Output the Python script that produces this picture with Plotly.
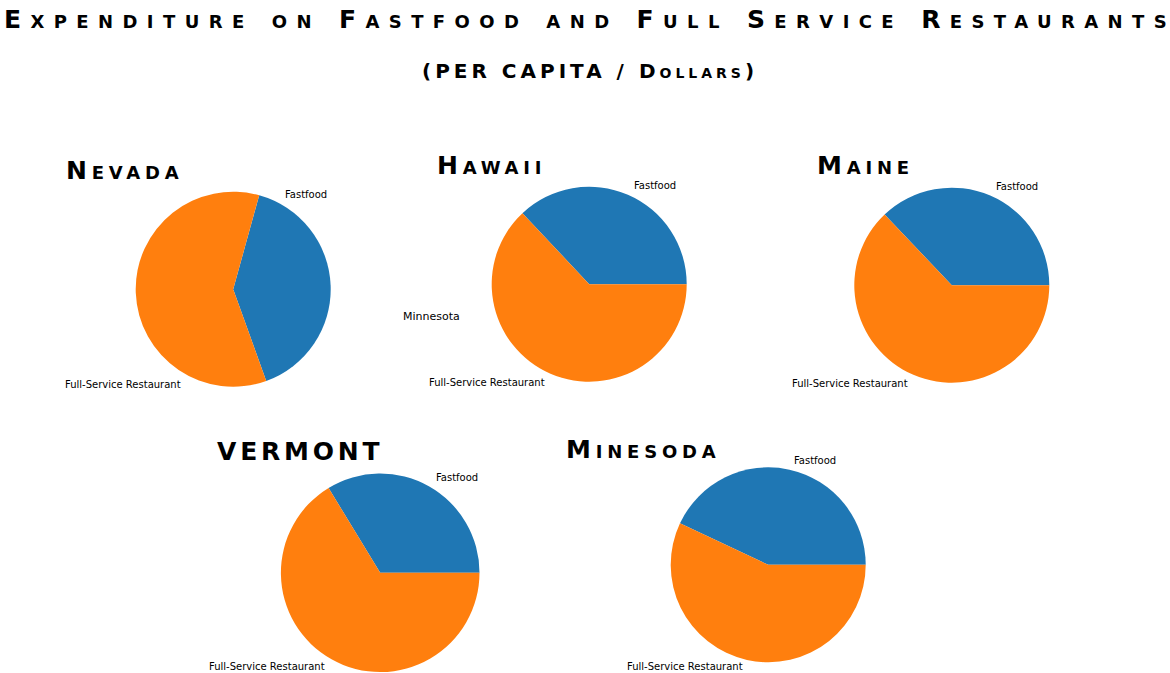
import math
import plotly.graph_objects as go

# ---------------- data ----------------
states = ["Nevada", "Hawaii", "Maine", "VERMONT", "Minesoda"]
categories = ["Fastfood", "Full-Service Restaurant"]
fastfood = [40.2, 37.0, 37.1, 33.7, 43.0]
full_service = [59.8, 63.0, 62.9, 66.3, 57.0]
# first-wedge start angle, degrees counter-clockwise from 3 o'clock
start_angles = [-70.2, 0, 0, 0, 0]
label_start_angles = [-10, 0, 0, 0, 0]
title_main = "Expenditure on Fastfood and Full Service Restaurants"
subtitle = "(PER CAPITA / Dollars)"
stray_label = "Minnesota"

# ---------------- layout (pixels) ----------------
W, H = 1170, 673
centers = [(233.2, 289.2), (589.2, 284.2), (951.8, 285.2), (380.2, 572.8), (768.2, 564.8)]
radii = [97.5, 97.5, 97.5, 99.3, 97.5]
title_pos = [(122.5, 170.7), (489, 165.5), (863, 165.5), (298.3, 451.7), (640.8, 449.7)]
title_spacing = [4.8, 4.8, 4.8, 3.8, 4.8]
BLUE, ORANGE = "#1f77b4", "#ff7f0e"
TITLE_FONT = "DejaVu Sans"


def px(x):
    return x / W


def py(y):
    return 1 - y / H


def spaced(text, sp):
    # letter-spacing on all but the last glyph, so no trailing gap is added
    return '<span style="letter-spacing:%spx">%s</span>%s' % (sp, text[:-1], text[-1])


fig = go.Figure()
annotations = []

for i, st in enumerate(states):
    cx, cy = centers[i]
    r = radii[i]
    vals = [fastfood[i], full_service[i]]
    total = sum(vals)
    first_span = 360.0 * vals[0] / total
    fig.add_trace(go.Pie(
        labels=categories, values=vals, sort=False,
        direction="counterclockwise",
        rotation=90 - start_angles[i] - first_span,
        marker=dict(colors=[BLUE, ORANGE], line=dict(width=0)),
        textinfo="none", hoverinfo="label+value", showlegend=False,
        domain=dict(x=[px(cx - r), px(cx + r)], y=[py(cy + r), py(cy - r)]),
        name=st,
    ))
    a = label_start_angles[i]
    for lab, v in zip(categories, vals):
        span = 360.0 * v / total
        mid = math.radians(a + span / 2)
        a += span
        lx = cx + 1.1 * r * math.cos(mid)
        ly = min(cy - 1.1 * r * math.sin(mid), H - 6.5)
        annotations.append(dict(
            text=lab, x=px(lx), y=py(ly), xref="paper", yref="paper",
            xanchor="left" if math.cos(mid) > 0 else "right", yanchor="middle",
            showarrow=False, font=dict(family="DejaVu Sans", size=10, color="black"),
        ))
    tx, ty = title_pos[i]
    annotations.append(dict(
        text=spaced(st, title_spacing[i]),
        x=px(tx), y=py(ty), xref="paper", yref="paper",
        xanchor="center", yanchor="middle", showarrow=False,
        font=dict(family=TITLE_FONT, size=25, color="black", weight="bold", variant="small-caps"),
    ))

annotations.append(dict(
    text=spaced(title_main, 9.4),
    x=px(585), y=py(19.5), xref="paper", yref="paper",
    xanchor="center", yanchor="middle", showarrow=False,
    font=dict(family=TITLE_FONT, size=25, color="black", weight="bold", variant="small-caps"),
))
annotations.append(dict(
    text=spaced(subtitle, 4),
    x=px(588), y=py(71), xref="paper", yref="paper",
    xanchor="center", yanchor="middle", showarrow=False,
    font=dict(family=TITLE_FONT, size=20, color="black", weight="bold", variant="small-caps"),
))
annotations.append(dict(
    text=stray_label, x=px(401), y=py(316), xref="paper", yref="paper",
    xanchor="left", yanchor="middle", showarrow=False,
    font=dict(family="DejaVu Sans", size=11, color="black"),
))

fig.update_layout(
    width=W, height=H, autosize=False,
    margin=dict(l=0, r=0, t=0, b=0),
    paper_bgcolor="white", plot_bgcolor="white",
    annotations=annotations,
)

fig.write_html("out.html")
